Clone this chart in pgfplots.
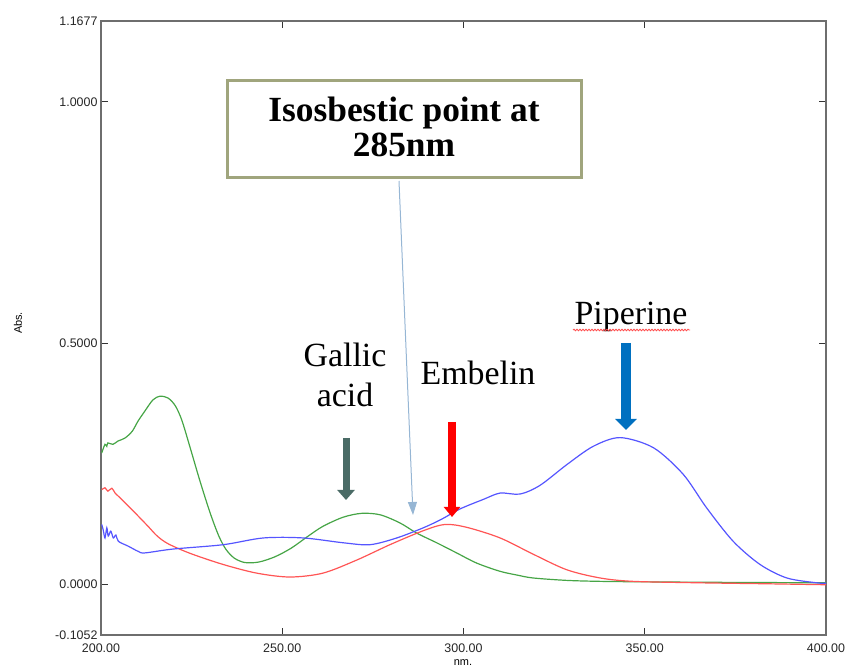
\documentclass[border=0pt]{standalone}
\usepackage{fontspec}
\setmainfont{Liberation Sans}
\newfontfamily\timesfont{Liberation Serif}
\usepackage{pgfplots}
\pgfplotsset{compat=1.18}
\usetikzlibrary{arrows.meta,decorations.pathmorphing}
\definecolor{cgreen}{RGB}{70,165,70}
\definecolor{cred}{RGB}{255,85,85}
\definecolor{cblue}{RGB}{85,85,255}
\definecolor{garrow}{RGB}{74,107,102}
\definecolor{barrow}{RGB}{0,112,192}
\definecolor{tarrow}{RGB}{150,182,212}
\definecolor{boxc}{RGB}{160,165,125}
\definecolor{axisc}{RGB}{110,110,110}
\begin{document}
\begin{tikzpicture}
\begin{axis}[
  at={(101bp,34bp)}, anchor=south west,
  scale only axis, width=725bp, height=614bp,
  xmin=200, xmax=400, ymin=-0.1052, ymax=1.1677,
  xtick={200,250,300,350,400},
  ytick={-0.1052,0,0.5,1,1.1677},
  tick align=inside, major tick length=7bp,
  axis line style={draw=axisc, line width=1.5bp},
  every tick/.style={black!80, line width=1bp},
  /pgf/number format/assume math mode=true,
  xticklabel style={yshift=-5bp, /pgf/number format/.cd, fixed, fixed zerofill, precision=2, 1000 sep={}},
  yticklabel style={/pgf/number format/.cd, fixed, fixed zerofill, precision=4},
  tick label style={font=\fontsize{12.5}{14}\selectfont, text=black!85},
  scaled ticks=false,
]
% Gallic acid (green)
\addplot[cgreen, line width=1.2bp, smooth, tension=0.5] coordinates {
(200.2,0.272) (201.1,0.290) (201.6,0.286) (201.9,0.293) (203.3,0.290) (204.7,0.297)
(206.6,0.303) (208.6,0.317) (210.2,0.338) (212.1,0.359) (214.3,0.382) (216.3,0.390)
(218.5,0.386) (220.5,0.370) (222.3,0.340) (224.6,0.283) (227.3,0.214) (230.1,0.148)
(232.5,0.100) (234.5,0.072) (236.8,0.054) (239.7,0.045) (243.5,0.046) (248.0,0.057)
(252.5,0.075) (257.0,0.099) (261.2,0.120) (266.8,0.139) (271.9,0.147) (277.0,0.144)
(282.5,0.127) (287.1,0.106) (292.6,0.086) (298.1,0.065) (303.6,0.044) (310.0,0.027)
(314.8,0.019) (319.2,0.013) (328.5,0.008) (337.7,0.006) (350,0.005) (370,0.004)
(400,0.003)
};
% Embelin (red)
\addplot[cred, line width=1.2bp, smooth, tension=0.5] coordinates {
(200.2,0.196) (201.1,0.200) (201.9,0.193) (203.0,0.199) (203.9,0.189) (205.7,0.176)
(209.4,0.148) (213.0,0.120) (215.5,0.100) (218.5,0.084) (224.6,0.064) (233.7,0.041)
(243.0,0.023) (252.1,0.015) (261.2,0.023) (270.5,0.050) (279.7,0.082) (288.9,0.111)
(294.9,0.124) (300.9,0.118) (310.1,0.096) (319.3,0.062) (328.5,0.030) (337.7,0.013)
(346.8,0.006) (365.2,0.003) (383.6,0.001) (400,-0.001)
};
% Piperine (blue)
\addplot[cblue, line width=1.2bp, smooth, tension=0.5] coordinates {
(200.2,0.124) (200.6,0.113) (201.1,0.096) (201.6,0.117) (202.0,0.100) (202.7,0.110)
(203.4,0.096) (204.1,0.102) (204.8,0.089) (207.5,0.079) (210.3,0.068) (212.1,0.065)
(219.9,0.073) (233.7,0.082) (244.8,0.096) (255.8,0.096) (266.8,0.086) (274.2,0.082)
(281.6,0.096) (288.9,0.117) (294.0,0.135) (299.0,0.156) (305.5,0.176) (310.1,0.189)
(315.6,0.187) (321.1,0.205) (328.5,0.248) (335.8,0.286) (343.2,0.304) (352.4,0.283)
(360.6,0.228) (367.1,0.158) (374.4,0.089) (381.8,0.041) (389.2,0.013) (397.4,0.003)
(400,0.002)
};
\end{axis}
% axis labels
\node[rotate=90, font=\fontsize{11}{13}\selectfont] at (18bp,346bp) {Abs.};
\node[font=\fontsize{11}{13}\selectfont] at (463bp,6bp) {nm.};
% annotations
\node[font=\timesfont\fontsize{34}{40}\selectfont, anchor=base, inner sep=0pt] at (345bp,302bp) {Gallic};
\node[font=\timesfont\fontsize{34}{40}\selectfont, anchor=base, inner sep=0pt] at (345bp,262bp) {acid};
\node[font=\timesfont\fontsize{34}{40}\selectfont, anchor=base, inner sep=0pt] at (478bp,284bp) {Embelin};
\node[font=\timesfont\fontsize{34}{40}\selectfont, anchor=base, inner sep=0pt] at (631bp,344bp) {Piperine};
\draw[red!70, line width=0.8bp, decorate, decoration={snake, amplitude=0.8bp, segment length=3bp}] (573bp,339bp) -- (690bp,339bp);
\draw[boxc, line width=3bp, fill=white] (227bp,588bp) rectangle (581bp,491bp);
\node[font=\timesfont\bfseries\fontsize{35.5}{40}\selectfont, anchor=base, inner sep=0pt] at (404bp,547bp) {Isosbestic point at};
\node[font=\timesfont\bfseries\fontsize{35.5}{40}\selectfont, anchor=base, inner sep=0pt] at (404bp,512bp) {285nm};
% arrows
\draw[garrow, line width=7bp, -{Triangle[width=17bp,length=10bp]}] (346bp,231bp) -- (346bp,169bp);
\draw[red, line width=8bp, -{Triangle[width=16bp,length=10bp]}] (452bp,247bp) -- (452bp,152bp);
\draw[barrow, line width=10bp, -{Triangle[width=21bp,length=11bp]}] (626bp,326bp) -- (626bp,239bp);
\draw[tarrow, line width=1bp, -{Triangle[width=9bp,length=13bp]}] (399bp,488bp) -- (413bp,154bp);
\pgfresetboundingbox
\useasboundingbox (0,0) rectangle (847bp,669bp);
\end{tikzpicture}
\end{document}
